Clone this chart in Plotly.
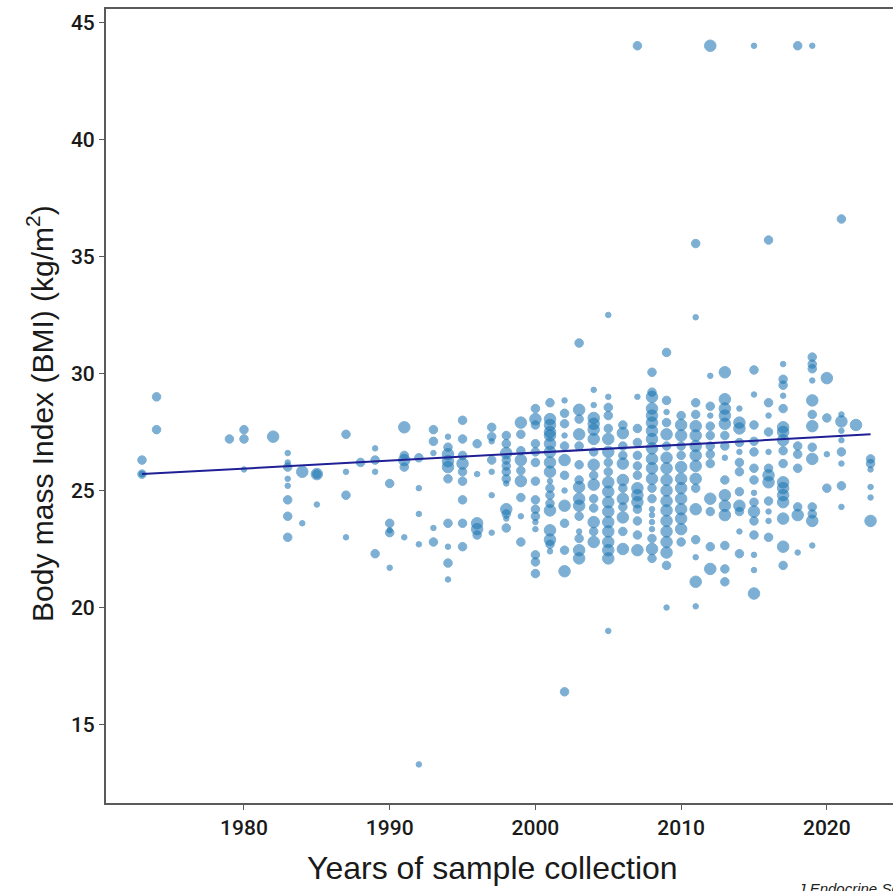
import plotly.graph_objects as go

# ---- data ----
# weight class: 1 = small study, 2 = medium, 3 = large
year = (
    [1973]*3 + [1974]*2 + [1979] + [1980]*3 + [1982] + [1983]*8 + [1984]*2 + [1985]*3 +
    [1987]*4 + [1988] + [1989]*4 + [1990]*5 + [1991]*5 + [1992]*5 + [1993]*5 + [1994]*10 +
    [1995]*9 + [1996]*5 + [1997]*7 + [1998]*12 + [1999]*9 + [2000]*15 + [2001]*18 +
    [2002]*13 + [2003]*15 + [2004]*15 + [2005]*19 + [2006]*12 + [2007]*14 + [2008]*21 +
    [2009]*18 + [2010]*13 + [2011]*16 + [2012]*13 + [2013]*15 + [2014]*12 + [2015]*16 +
    [2016]*12 + [2017]*17 + [2018]*7 + [2019]*14 + [2020]*4 + [2021]*9 + [2022]*1 + [2023]*6
)

bmi = [
    26.3, 25.7, 25.7,
    29.0, 27.6,
    27.2,
    27.6, 27.2, 25.9,
    27.3,
    26.6, 26.2, 26.0, 25.5, 25.2, 24.6, 23.9, 23.0,
    25.8, 23.6,
    25.7, 25.7, 24.4,
    27.4, 25.8, 24.8, 23.0,
    26.2,
    26.8, 26.3, 25.8, 22.3,
    25.3, 23.6, 23.3, 23.2, 21.7,
    27.7, 26.5, 26.3, 26.0, 23.0,
    26.4, 25.1, 24.0, 22.7, 13.3,
    27.6, 27.1, 26.6, 23.4, 22.8,
    27.3, 26.85, 26.55, 26.25, 26.0, 25.5, 23.6, 22.6, 21.9, 21.2,
    28.0, 27.2, 26.5, 26.15, 25.8, 25.4, 24.6, 23.6, 22.6,
    27.0, 25.7, 23.6, 23.35, 23.1,
    27.7, 27.3, 27.1, 26.3, 25.8, 24.8, 23.2,
    27.35, 27.0, 26.6, 26.3, 26.05, 25.8, 25.5, 25.3, 24.2, 24.0, 23.8, 23.4,
    27.9, 27.4, 26.7, 26.3, 25.85, 25.4, 24.7, 23.9, 22.8,
    28.5, 28.05, 27.8, 27.0, 26.65, 26.2, 25.4, 24.6, 24.2, 23.9, 23.65, 23.35, 22.25, 21.95, 21.45,
    28.75, 28.05, 27.8, 27.5, 27.35, 27.0, 26.65, 26.2, 25.8, 25.4, 25.1, 24.8, 24.45, 24.15, 23.3, 22.9, 22.7, 22.4,
    28.85, 28.3, 27.85, 27.35, 26.9, 26.3, 25.65, 25.0, 24.35, 23.6, 22.45, 21.55, 16.4,
    31.3, 28.45, 28.05, 27.4, 26.9, 26.1, 25.45, 25.15, 24.65, 24.35, 23.9, 23.25, 22.95, 22.45, 22.1,
    29.3, 28.65, 28.1, 27.85, 27.6, 27.2, 26.65, 26.1, 25.65, 25.25, 24.65, 24.25, 23.65, 23.25, 22.8,
    32.5, 29.0, 28.55, 28.2, 27.65, 27.2, 26.65, 26.2, 25.8, 25.35, 24.95, 24.5, 24.1, 23.65, 23.25, 22.8, 22.45, 22.1, 19.0,
    27.8, 27.45, 26.9, 26.5, 26.15, 25.45, 25.1, 24.65, 24.3, 23.85, 23.25, 22.5,
    44.0, 29.0, 27.65, 27.05, 26.5, 26.05, 25.65, 25.1, 24.8, 24.5, 24.2, 23.7, 23.1, 22.45,
    30.05, 29.2, 29.0, 28.5, 28.2, 27.9, 27.55, 27.2, 26.8, 26.35, 25.95, 25.5, 25.1, 24.65, 24.2, 23.95, 23.65, 23.35, 22.95, 22.5, 22.1,
    30.9, 28.85, 28.35, 27.9, 27.4, 26.9, 26.4, 25.95, 25.45, 25.0, 24.55, 24.15, 23.7, 23.25, 22.8, 22.35, 21.8, 20.0,
    28.2, 27.8, 27.35, 26.9, 26.5, 26.0, 25.5, 25.1, 24.65, 24.2, 23.8, 23.35, 22.8,
    35.55, 32.4, 28.75, 28.25, 27.75, 27.35, 26.9, 26.5, 26.05, 25.5, 25.1, 24.2, 22.9, 22.15, 21.1, 20.05,
    44.0, 29.9, 28.6, 28.2, 27.75, 27.35, 26.9, 26.55, 26.15, 24.65, 24.1, 22.6, 21.65,
    30.05, 28.9, 28.5, 28.2, 27.85, 27.35, 26.9, 26.4, 25.45, 24.8, 24.35, 23.95, 22.65, 21.65, 21.1,
    28.5, 27.9, 27.65, 27.05, 26.65, 26.2, 25.8, 24.95, 24.35, 24.1, 23.25, 22.3,
    44.0, 30.15, 29.1, 27.8, 27.1, 26.65, 25.95, 25.45, 24.9, 24.5, 24.1, 23.7, 23.1, 22.25, 21.6, 20.6,
    35.7, 28.75, 28.2, 27.5, 26.65, 25.95, 25.65, 25.35, 24.55, 24.1, 23.7, 23.0,
    30.4, 29.75, 29.5, 29.05, 28.5, 27.7, 27.5, 27.15, 26.7, 26.15, 25.35, 25.1, 24.8, 24.5, 23.8, 22.6, 21.8,
    44.0, 26.9, 26.55, 25.95, 24.3, 23.95, 22.35,
    44.0, 30.7, 30.4, 30.2, 29.7, 28.85, 28.25, 27.75, 26.85, 26.35, 24.3, 24.0, 23.7, 22.65,
    29.8, 28.1, 26.55, 25.1,
    36.6, 28.25, 27.95, 27.55, 27.15, 26.65, 26.15, 25.2, 24.3,
    27.8,
    26.35, 26.15, 25.9, 25.15, 24.7, 23.7,
]

weight = [
    2, 2, 1,
    2, 2,
    2,
    2, 2, 1,
    3,
    1, 1, 2, 1, 1, 2, 2, 2,
    3, 1,
    3, 2, 1,
    2, 1, 2, 1,
    2,
    1, 2, 1, 2,
    2, 2, 1, 2, 1,
    3, 2, 3, 2, 1,
    2, 1, 1, 1, 1,
    2, 2, 1, 1, 2,
    1, 2, 3, 3, 3, 2, 2, 1, 2, 1,
    2, 2, 2, 3, 2, 2, 2, 2, 2,
    2, 1, 3, 3, 2,
    2, 2, 1, 2, 1, 1, 1,
    2, 2, 3, 2, 2, 2, 2, 1, 3, 2, 1, 2,
    3, 2, 2, 3, 2, 3, 2, 1, 2,
    2, 3, 2, 2, 2, 2, 2, 2, 2, 2, 1, 1, 2, 2, 2,
    2, 3, 3, 3, 3, 3, 3, 3, 3, 1, 2, 2, 2, 3, 3, 3, 2, 1,
    1, 2, 2, 1, 2, 3, 2, 1, 3, 2, 2, 3, 2,
    2, 3, 2, 3, 2, 2, 2, 3, 3, 3, 2, 1, 2, 3, 3,
    1, 1, 3, 3, 3, 3, 2, 3, 2, 3, 2, 2, 3, 2, 3,
    1, 1, 2, 2, 2, 3, 3, 2, 2, 3, 3, 3, 3, 3, 3, 3, 3, 3, 1,
    2, 3, 2, 2, 3, 3, 2, 3, 2, 3, 2, 3,
    2, 1, 2, 2, 2, 2, 2, 3, 3, 3, 2, 2, 2, 3,
    2, 2, 3, 3, 3, 3, 3, 3, 3, 3, 3, 3, 2, 2, 1, 1, 1, 1, 2, 3, 2,
    2, 2, 1, 2, 3, 2, 3, 3, 3, 3, 3, 3, 3, 3, 3, 3, 2, 1,
    2, 3, 3, 2, 2, 3, 3, 3, 3, 3, 3, 3, 2,
    2, 1, 2, 2, 3, 3, 3, 3, 3, 3, 2, 3, 2, 1, 3, 1,
    3, 1, 2, 1, 2, 2, 2, 2, 2, 3, 2, 2, 3,
    3, 3, 3, 3, 3, 2, 2, 1, 2, 3, 3, 3, 2, 2, 2,
    1, 3, 3, 2, 1, 2, 2, 2, 3, 2, 1, 2,
    1, 2, 1, 2, 2, 2, 2, 2, 1, 2, 3, 2, 2, 1, 1, 3,
    2, 2, 1, 2, 1, 2, 3, 3, 2, 1, 1, 2,
    1, 2, 2, 1, 2, 3, 3, 3, 2, 2, 3, 3, 3, 3, 3, 3, 2,
    2, 2, 2, 2, 2, 3, 1,
    1, 2, 2, 2, 1, 3, 2, 3, 2, 3, 2, 2, 3, 1,
    3, 2, 1, 2,
    2, 1, 3, 1, 1, 2, 1, 2, 1,
    3,
    2, 2, 1, 1, 1, 3,
]

trend_years = [1973, 2023]
trend_bmi = [25.7, 27.4]

x_ticks = [1980, 1990, 2000, 2010, 2020]
y_ticks = [15, 20, 25, 30, 35, 40, 45]

# ---- figure ----
size_map = {1: 5.5, 2: 8.5, 3: 11.5}
sizes = [size_map[w] for w in weight]

fig = go.Figure()
fig.add_trace(go.Scatter(
    x=year, y=bmi, mode="markers",
    marker=dict(size=sizes, color="rgb(31,119,180)", opacity=0.58,
                line=dict(width=1, color="rgb(31,119,180)")),
    showlegend=False, hoverinfo="x+y",
))
fig.add_trace(go.Scatter(
    x=trend_years, y=trend_bmi, mode="lines",
    line=dict(color="#1f1f96", width=2),
    showlegend=False,
))

axis_line = "#5a5a5a"
tick_font = dict(family="Roboto, Liberation Sans, sans-serif", size=21, color="#1a1a1a", weight=500)

fig.update_layout(
    width=893, height=891,
    margin=dict(l=106, r=0, t=9, b=88),
    paper_bgcolor="white", plot_bgcolor="white",
    xaxis=dict(
        range=[1970.53, 2024.54], tickvals=x_ticks, ticks="outside", ticklen=5,
        tickcolor=axis_line, showline=True, linecolor=axis_line, linewidth=2, mirror=True,
        showgrid=False, zeroline=False, tickfont=tick_font,
    ),
    yaxis=dict(
        range=[11.65, 45.57], tickvals=y_ticks, ticks="outside", ticklen=5,
        tickcolor=axis_line, showline=True, linecolor=axis_line, linewidth=2, mirror=False,
        showgrid=False, zeroline=False, tickfont=tick_font,
    ),
)

fig.add_annotation(
    text="Body mass Index (BMI) (kg/m<sup>2</sup>)", xref="paper", yref="paper",
    x=-(106 - 40) / 787, y=(803 - 414) / 794, xanchor="center", yanchor="middle",
    textangle=-90, showarrow=False,
    font=dict(family="Liberation Sans, Arial, sans-serif", size=30, color="#1a1a1a"),
)

fig.add_annotation(
    text="Years of sample collection", xref="paper", yref="paper",
    x=(492 - 106) / 787, y=-(868 - 803) / 794, xanchor="center", yanchor="middle",
    showarrow=False, font=dict(family="Liberation Sans, Arial, sans-serif", size=32, color="#1a1a1a"),
)

fig.add_annotation(
    text="<i>J Endocrine Soc</i>", xref="paper", yref="paper",
    x=(795 - 106) / 787, y=-0.0945, xanchor="left", yanchor="top",
    showarrow=False, font=dict(family="Liberation Sans, Arial, sans-serif", size=15, color="#222"),
)

fig.write_html("out.html")
